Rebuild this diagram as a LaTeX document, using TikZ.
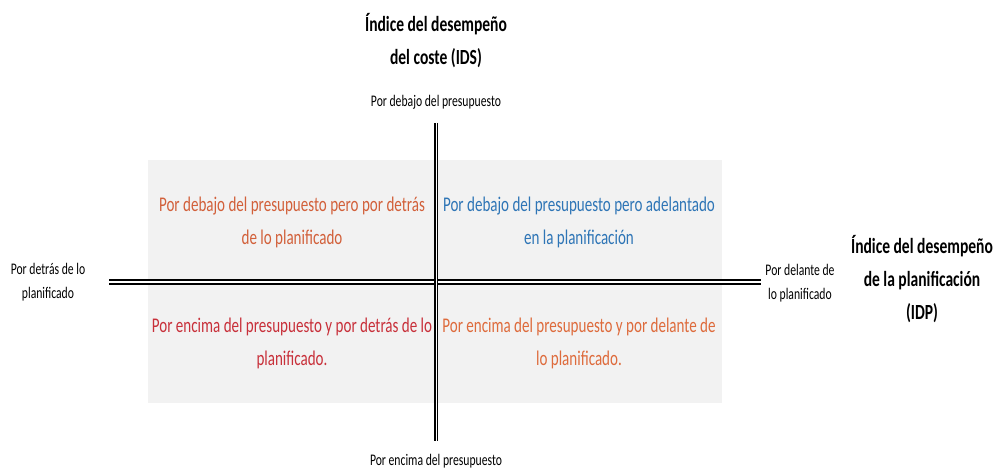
\documentclass[tikz,border=0pt]{standalone}
\usepackage{fontspec}
\setmainfont{Carlito}[FakeStretch=0.72]
\definecolor{bgq}{HTML}{F2F2F2}
\definecolor{cTL}{HTML}{D2603A}
\definecolor{cTR}{HTML}{2E75B6}
\definecolor{cBL}{HTML}{C8303A}
\definecolor{cBR}{HTML}{DE6B3C}
\begin{document}
\begin{tikzpicture}[x=1pt,y=-1pt,
  title/.style={font=\fontsize{21.6}{33}\selectfont\bfseries, align=center, inner sep=0pt},
  small/.style={font=\fontsize{16.2}{24}\selectfont, align=center, inner sep=0pt},
  quad/.style={font=\fontsize{20.9}{33}\selectfont, align=center, inner sep=0pt},
  axh/.style={draw=black, double=white, line width=2.1pt, double distance=1.2pt},
  axv/.style={draw=black, double=white, line width=1.5pt, double distance=1.0pt}]
\useasboundingbox (0,0) rectangle (994,468);
\fill[bgq] (148,160) rectangle (722,403);
\coordinate (hl) at (109,282);
\coordinate (hr) at (761,282);
\coordinate (vt) at (436,123);
\coordinate (vb) at (436,441);
\draw[axh] (hl) -- (hr);
\draw[axv] (vt) -- (vb);
\node[title] (ids) at (436,41) {Índice del desempeño\\del coste (IDS)};
\node[title] (idp) at (922,279) {Índice del desempeño\\de la planificación\\(IDP)};
\node[small] (top) at (436,102) {Por debajo del presupuesto};
\node[small] (bot) at (436,461) {Por encima del presupuesto};
\node[small] (left) at (48,282) {Por detrás de lo\\planificado};
\node[small] (right) at (800,283) {Por delante de\\lo planificado};
\node[quad, text=cTL] (tl) at (292,222) {Por debajo del presupuesto pero por detrás\\de lo planificado};
\node[quad, text=cTR] (tr) at (579,222) {Por debajo del presupuesto pero adelantado\\en la planificación};
\node[quad, text=cBL] (bl) at (292,343) {Por encima del presupuesto y por detrás de lo\\planificado.};
\node[quad, text=cBR] (br) at (579,343) {Por encima del presupuesto y por delante de\\lo planificado.};
\end{tikzpicture}
\end{document}
